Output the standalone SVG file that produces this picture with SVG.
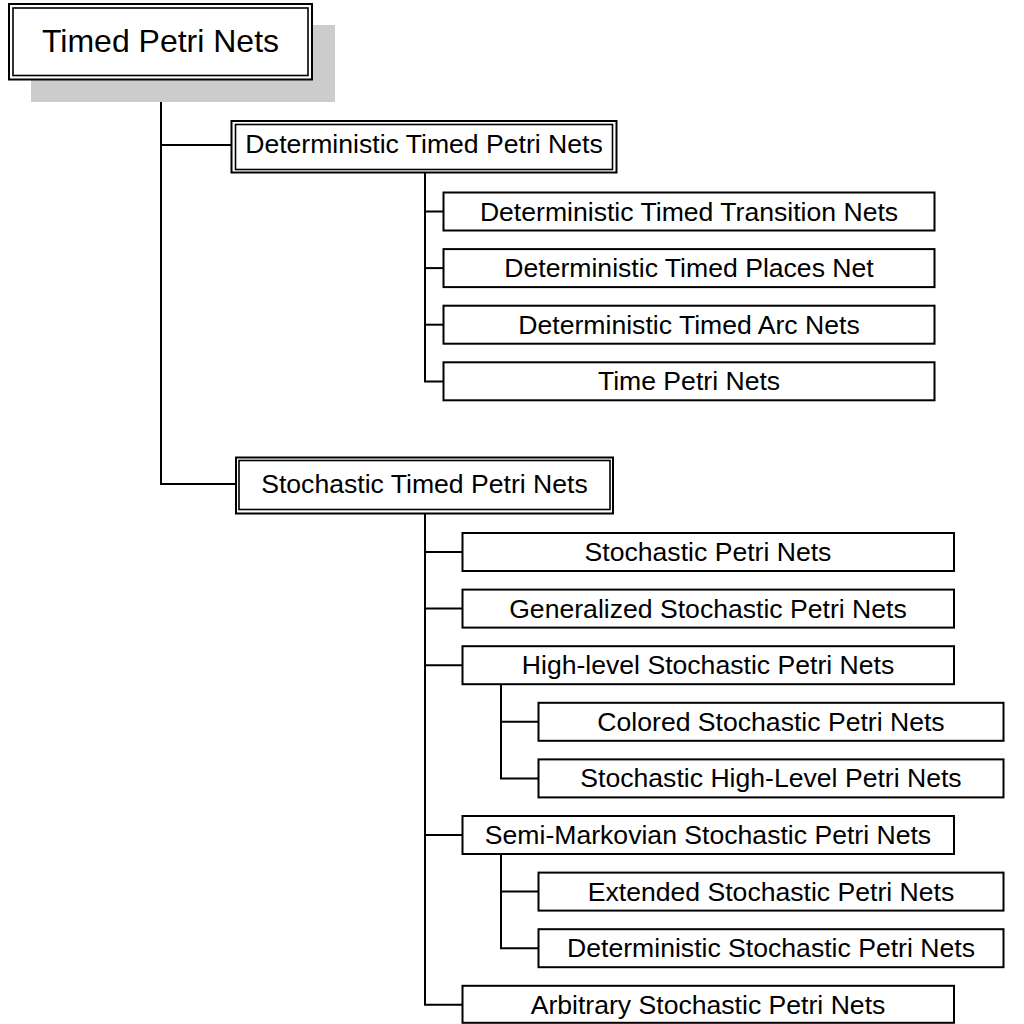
<svg xmlns="http://www.w3.org/2000/svg" width="1024" height="1024" viewBox="0 0 1024 1024">
  <style>
    .box { fill: #ffffff; stroke: #000000; stroke-width: 2; }
    .frame { fill: none; stroke: #000000; stroke-width: 1.6; }
    .shadow { fill: #cccccc; stroke: none; }
    .link { fill: none; stroke: #000000; stroke-width: 2; }
    .lbl { font-family: "Liberation Sans", Arial, Helvetica, sans-serif; font-size: 26.6px; text-anchor: middle; fill: #000000; }
    .title { font-size: 32px; }
  </style>

  <rect id="bg" x="0" y="0" width="1024" height="1024" fill="#ffffff"/>

  <!-- tree connectors -->
  <g id="connectors" class="link">
    <path d="M161 80 V484 H236"/>
    <path d="M161 145 H231.5"/>
    <path d="M425 173 V381.5 H443.5"/>
    <path d="M425 211.5 H443.5"/>
    <path d="M425 268.1 H443.5"/>
    <path d="M425 324.7 H443.5"/>
    <path d="M425 513.5 V1004.8 H462.5"/>
    <path d="M425 552 H462.5"/>
    <path d="M425 608.6 H462.5"/>
    <path d="M425 665.2 H462.5"/>
    <path d="M425 835 H462.5"/>
    <path d="M501 684.5 V778.4 H538.5"/>
    <path d="M501 721.8 H538.5"/>
    <path d="M501 854 V948.2 H538.5"/>
    <path d="M501 891.6 H538.5"/>
  </g>

  <!-- root -->
  <g id="node-timed-petri-nets">
    <rect class="shadow" x="31" y="25" width="304" height="77"/>
    <rect class="box" x="9" y="4" width="303" height="75.5"/>
    <rect class="frame" x="13" y="8" width="295" height="67.5"/>
    <text class="lbl title" x="160.5" y="52">Timed Petri Nets</text>
  </g>

  <!-- second level -->
  <g id="node-deterministic-timed">
    <rect class="box" x="231.5" y="121" width="385" height="51.5"/>
    <rect class="frame" x="235.5" y="124.5" width="377" height="45"/>
    <text class="lbl" x="424" y="153">Deterministic Timed Petri Nets</text>
  </g>
  <g id="node-stochastic-timed">
    <rect class="box" x="236" y="457.5" width="377" height="56"/>
    <rect class="frame" x="239" y="460.5" width="371" height="49"/>
    <text class="lbl" x="424.5" y="493">Stochastic Timed Petri Nets</text>
  </g>

  <!-- deterministic family -->
  <g id="node-dt-transition">
    <rect class="box" x="443.5" y="192.5" width="491" height="38"/>
    <text class="lbl" x="689" y="220.5">Deterministic Timed Transition Nets</text>
  </g>
  <g id="node-dt-places">
    <rect class="box" x="443.5" y="249.1" width="491" height="38"/>
    <text class="lbl" x="689" y="277.1">Deterministic Timed Places Net</text>
  </g>
  <g id="node-dt-arc">
    <rect class="box" x="443.5" y="305.7" width="491" height="38"/>
    <text class="lbl" x="689" y="333.7">Deterministic Timed Arc Nets</text>
  </g>
  <g id="node-time-petri">
    <rect class="box" x="443.5" y="362.3" width="491" height="38"/>
    <text class="lbl" x="689" y="390.3">Time Petri Nets</text>
  </g>

  <!-- stochastic family -->
  <g id="node-spn">
    <rect class="box" x="462.5" y="533" width="491.5" height="38"/>
    <text class="lbl" x="708" y="561">Stochastic Petri Nets</text>
  </g>
  <g id="node-gspn">
    <rect class="box" x="462.5" y="589.6" width="491.5" height="38"/>
    <text class="lbl" x="708" y="617.6">Generalized Stochastic Petri Nets</text>
  </g>
  <g id="node-hlspn">
    <rect class="box" x="462.5" y="646.2" width="491.5" height="38"/>
    <text class="lbl" x="708" y="674.2">High-level Stochastic Petri Nets</text>
  </g>
  <g id="node-cspn">
    <rect class="box" x="538.5" y="702.8" width="465" height="38"/>
    <text class="lbl" x="771" y="730.8">Colored Stochastic Petri Nets</text>
  </g>
  <g id="node-shlpn">
    <rect class="box" x="538.5" y="759.4" width="465" height="38"/>
    <text class="lbl" x="771" y="787.4">Stochastic High-Level Petri Nets</text>
  </g>
  <g id="node-smspn">
    <rect class="box" x="462.5" y="816" width="491.5" height="38"/>
    <text class="lbl" x="708" y="844">Semi-Markovian Stochastic Petri Nets</text>
  </g>
  <g id="node-espn">
    <rect class="box" x="538.5" y="872.6" width="465" height="38"/>
    <text class="lbl" x="771" y="900.6">Extended Stochastic Petri Nets</text>
  </g>
  <g id="node-dspn">
    <rect class="box" x="538.5" y="929.2" width="465" height="38"/>
    <text class="lbl" x="771" y="957.2">Deterministic Stochastic Petri Nets</text>
  </g>
  <g id="node-aspn">
    <rect class="box" x="462.5" y="985.8" width="491.5" height="37"/>
    <text class="lbl" x="708" y="1013.8">Arbitrary Stochastic Petri Nets</text>
  </g>
</svg>
